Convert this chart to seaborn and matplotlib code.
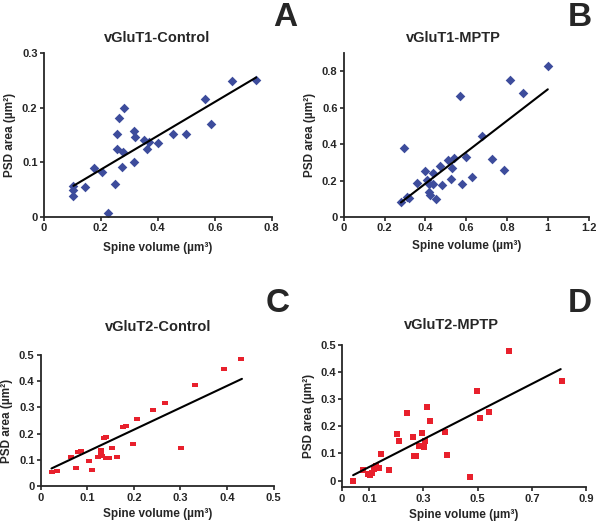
import numpy as np
import pandas as pd
import seaborn as sns
import matplotlib.pyplot as plt

# panel A: vGluT1-Control
a_x = [0.104, 0.104, 0.104, 0.143, 0.175, 0.203, 0.227, 0.25, 0.256, 0.257, 0.263, 0.275, 0.28, 0.277,
       0.318, 0.32, 0.318, 0.35, 0.361, 0.368, 0.402, 0.455, 0.5, 0.564, 0.585, 0.66, 0.745]
a_y = [0.056, 0.049, 0.039, 0.054, 0.089, 0.083, 0.008, 0.060, 0.151, 0.125, 0.181, 0.092, 0.200, 0.118,
       0.157, 0.147, 0.100, 0.141, 0.124, 0.137, 0.136, 0.152, 0.152, 0.216, 0.170, 0.249, 0.251]
a_fit_x = [0.104, 0.745]
a_fit_y = [0.057, 0.255]

# panel B: vGluT1-MPTP
b_x = [0.28, 0.296, 0.308, 0.321, 0.357, 0.40, 0.409, 0.419, 0.419, 0.425, 0.438, 0.438, 0.451, 0.474,
       0.48, 0.511, 0.528, 0.524, 0.541, 0.572, 0.58, 0.598, 0.63, 0.679, 0.725, 0.783, 0.813, 0.878, 1.0]
b_y = [0.08, 0.376, 0.109, 0.102, 0.185, 0.253, 0.204, 0.18, 0.135, 0.12, 0.24, 0.18, 0.098, 0.282,
       0.173, 0.311, 0.267, 0.209, 0.325, 0.664, 0.18, 0.331, 0.218, 0.444, 0.32, 0.258, 0.749, 0.68, 0.827]
b_fit_x = [0.28, 1.0]
b_fit_y = [0.08, 0.70]

# panel C: vGluT2-Control
c_x = [0.023, 0.035, 0.064, 0.075, 0.08, 0.087, 0.103, 0.111, 0.123, 0.13, 0.13, 0.132, 0.135, 0.141,
       0.139, 0.146, 0.153, 0.164, 0.176, 0.184, 0.198, 0.206, 0.241, 0.266, 0.302, 0.332, 0.394, 0.431]
c_y = [0.055, 0.06, 0.112, 0.069, 0.129, 0.135, 0.096, 0.064, 0.111, 0.138, 0.126, 0.116, 0.185, 0.187,
       0.109, 0.106, 0.144, 0.111, 0.225, 0.229, 0.162, 0.254, 0.29, 0.318, 0.145, 0.384, 0.444, 0.485]
c_fit_x = [0.023, 0.432]
c_fit_y = [0.068, 0.408]

# panel D: vGluT2-MPTP
d_x = [0.041, 0.078, 0.096, 0.102, 0.109, 0.117, 0.127, 0.129, 0.137, 0.145, 0.173, 0.202, 0.21, 0.24,
       0.26, 0.266, 0.271, 0.285, 0.293, 0.302, 0.307, 0.312, 0.324, 0.379, 0.388, 0.471, 0.496, 0.509,
       0.54, 0.615, 0.809]
d_y = [0.0, 0.039, 0.024, 0.02, 0.029, 0.041, 0.053, 0.047, 0.047, 0.099, 0.039, 0.171, 0.147, 0.249,
       0.159, 0.089, 0.089, 0.129, 0.175, 0.125, 0.147, 0.271, 0.22, 0.178, 0.093, 0.012, 0.330, 0.229,
       0.251, 0.478, 0.367]
d_fit_x = [0.041, 0.806]
d_fit_y = [0.02, 0.41]

titles = ['vGluT1-Control', 'vGluT1-MPTP', 'vGluT2-Control', 'vGluT2-MPTP']
letters = ['A', 'B', 'C', 'D']

sns.set_style('ticks')
plt.rcParams['font.family'] = ['Liberation Sans', 'DejaVu Sans']
plt.rcParams['font.weight'] = 'bold'
plt.rcParams['axes.labelweight'] = 'bold'

fig = plt.figure(figsize=(6, 5.23), dpi=100)

blue = '#3d4c9c'
red = '#e8202c'
rect_marker = [(-1, -0.6), (1, -0.6), (1, 0.6), (-1, 0.6)]

panels = [
    dict(x=a_x, y=a_y, fx=a_fit_x, fy=a_fit_y, rect=[0.073, 0.585, 0.38, 0.314], marker='D', color=blue, ms=24,
         xlim=(0, 0.8), xt=[0, 0.2, 0.4, 0.6, 0.8], xtl=['0', '0.2', '0.4', '0.6', '0.8'],
         ylim=(0, 0.3), yt=[0, 0.1, 0.2, 0.3], ytl=['0', '0.1', '0.2', '0.3'],
         tpos=(157, 38), lpos=(285, 18), lpad=6),
    dict(x=b_x, y=b_y, fx=b_fit_x, fy=b_fit_y, rect=[0.573, 0.585, 0.408, 0.314], marker='D', color=blue, ms=24,
         xlim=(0, 1.2), xt=[0, 0.2, 0.4, 0.6, 0.8, 1.0, 1.2], xtl=['0', '0.2', '0.4', '0.6', '0.8', '1', '1.2'],
         ylim=(0, 0.9), yt=[0, 0.2, 0.4, 0.6, 0.8], ytl=['0', '0.2', '0.4', '0.6', '0.8'],
         tpos=(453, 38), lpos=(580, 18), lpad=5),
    dict(x=c_x, y=c_y, fx=c_fit_x, fy=c_fit_y, rect=[0.068, 0.07, 0.388, 0.252], marker=rect_marker, color=red, ms=18,
         xlim=(0, 0.5), xt=[0, 0.1, 0.2, 0.3, 0.4, 0.5], xtl=['0', '0.1', '0.2', '0.3', '0.4', '0.5'],
         ylim=(0, 0.5), yt=[0, 0.1, 0.2, 0.3, 0.4, 0.5], ytl=['0', '0.1', '0.2', '0.3', '0.4', '0.5'],
         tpos=(158, 327), lpos=(278, 303), lpad=4),
    dict(x=d_x, y=d_y, fx=d_fit_x, fy=d_fit_y, rect=[0.57, 0.068, 0.407, 0.273], marker='s', color=red, ms=24,
         xlim=(0, 0.9), xt=[0, 0.1, 0.3, 0.5, 0.7, 0.9], xtl=['0', '0.1', '0.3', '0.5', '0.7', '0.9'],
         ylim=(-0.025, 0.5), yt=[0, 0.1, 0.2, 0.3, 0.4, 0.5], ytl=['0', '0.1', '0.2', '0.3', '0.4', '0.5'],
         tpos=(451, 325), lpos=(580, 303), lpad=4),
]

for p, title, letter in zip(panels, titles, letters):
    ax = fig.add_axes(p['rect'])
    df = pd.DataFrame({'vol': p['x'], 'psd': p['y']})
    fit = pd.DataFrame({'vol': p['fx'], 'psd': p['fy']})
    sns.regplot(data=df, x='vol', y='psd', ax=ax, fit_reg=False, marker=p['marker'],
                scatter_kws=dict(color=p['color'], s=p['ms'], linewidths=0, alpha=1))
    sns.lineplot(data=fit, x='vol', y='psd', ax=ax, color='black', linewidth=1.5)
    ax.set_xlim(*p['xlim'])
    ax.set_ylim(*p['ylim'])
    ax.set_xticks(p['xt'])
    ax.set_xticklabels(p['xtl'])
    ax.set_yticks(p['yt'])
    ax.set_yticklabels(p['ytl'])
    ax.tick_params(labelsize=8, width=1.2, length=3, pad=1.5)
    for s in ['left', 'bottom']:
        ax.spines[s].set_linewidth(1.3)
    sns.despine(ax=ax)
    ax.set_xlabel('Spine volume (µm³)', fontsize=8.5, labelpad=p['lpad'])
    ax.set_ylabel('PSD area (µm²)', fontsize=8.5, labelpad=4)
    fig.text(p['tpos'][0] / 600, 1 - p['tpos'][1] / 523, title, ha='center', va='center',
             fontsize=10.5, fontweight='bold')
    fig.text(p['lpos'][0] / 600, 1 - p['lpos'][1] / 523, letter, ha='center', va='center',
             fontsize=24, fontweight='bold')

fig.savefig('out.png', dpi=100)
